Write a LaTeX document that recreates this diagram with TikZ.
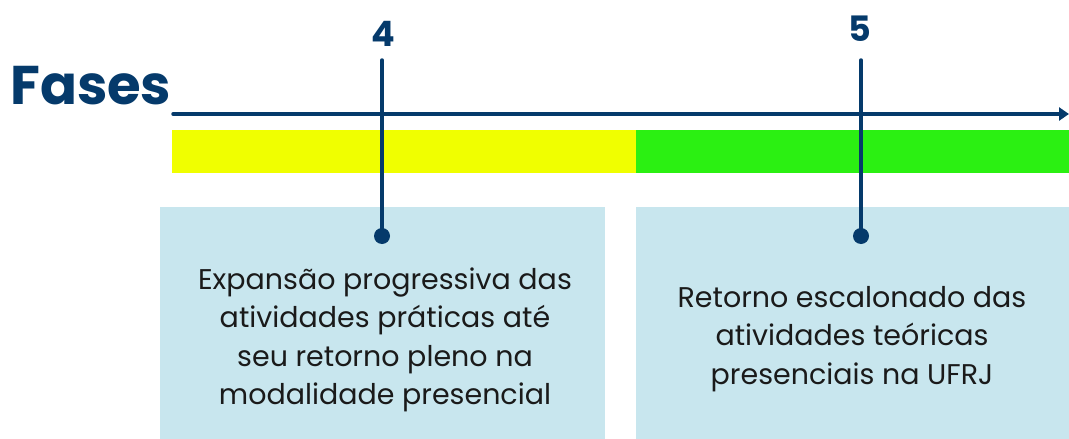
\documentclass[tikz,border=0pt]{standalone}
\usepackage{fontspec}
\setmainfont{Poppins}
\usetikzlibrary{arrows.meta}
\definecolor{navy}{HTML}{053A6B}
\definecolor{phyellow}{HTML}{F0FF00}
\definecolor{phgreen}{HTML}{2BF012}
\definecolor{boxblue}{HTML}{C8E6EE}
\definecolor{txt}{HTML}{1A1A1A}
\tikzset{
  pbar/.style={fill=#1, draw=none},
  infobox/.style={fill=boxblue, draw=none},
  marker/.style={draw=navy, line width=3.5pt, line cap=round},
  phasenum/.style={text=navy, font=\fontsize{35}{35}\selectfont\bfseries, inner sep=0pt},
  desc/.style={text=txt, font=\fontsize{28.5}{38.5}\selectfont, align=center, inner sep=0pt},
}
\begin{document}
\begin{tikzpicture}[x=1pt,y=-1pt]
\useasboundingbox (0,0) rectangle (1069,439);
% bars
\fill[phyellow] (172,130) rectangle (636,173);
\fill[phgreen] (636,130) rectangle (1069,173);
% boxes
\fill[boxblue] (160,207) rectangle (605,439);
\fill[boxblue] (636,207) rectangle (1069,439);
% title
\node[anchor=base west, text=navy, inner sep=0pt, font=\fontsize{54.5}{54.5}\selectfont\bfseries] (title) at (10,104) {Fases};
% axis
\coordinate (axs) at (173,114);
\coordinate (axe) at (1069,114);
\draw[draw=navy, line width=3.5pt, line cap=round, -{Triangle[length=10pt,width=13pt]}] (axs) -- (axe);
% markers
\coordinate (m4top) at (382,60);
\coordinate (m4dot) at (382,236);
\coordinate (m5top) at (861,60);
\coordinate (m5dot) at (861,236);
\draw[marker] (m4top) -- (m4dot);
\draw[marker] (m5top) -- (m5dot);
\fill[navy] (m4dot) circle (8);
\fill[navy] (m5dot) circle (8);
\node[phasenum] (n4) at (383,34) {4};
\node[phasenum] (n5) at (860,29) {5};
% texts
\node[desc] (t4) at (385,340) {Expansão progressiva das\\atividades práticas até\\seu retorno pleno na\\modalidade presencial};
\node[desc] (t5) at (852,339) {Retorno escalonado das\\atividades teóricas\\presenciais na UFRJ};
\end{tikzpicture}
\end{document}
